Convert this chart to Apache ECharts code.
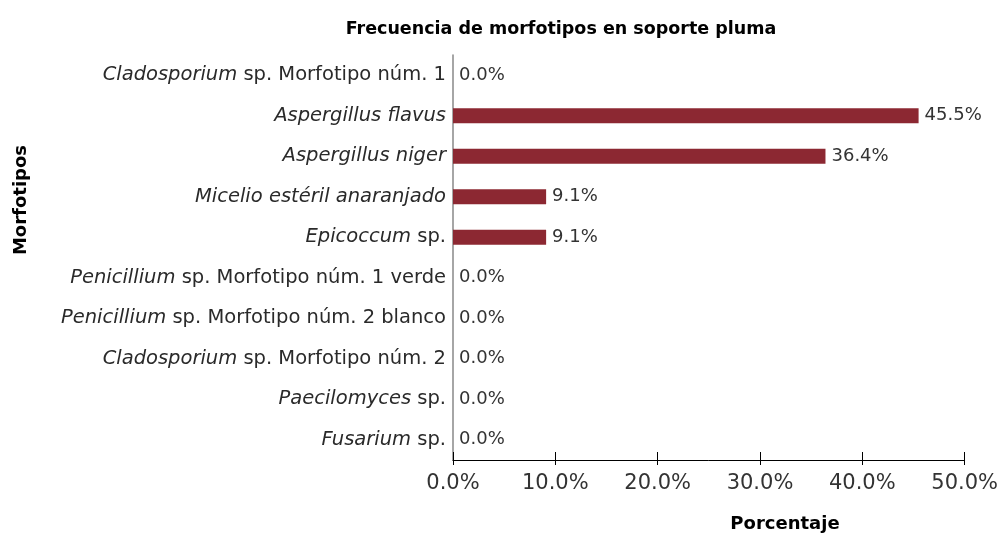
<!DOCTYPE html>
<html>
<head>
<meta charset="utf-8">
<script src="https://cdn.jsdelivr.net/npm/echarts@6/dist/echarts.min.js"></script>
<style>
  html, body { margin: 0; padding: 0; background: #fff; }
  #chart { width: 1001px; height: 533px; }
</style>
</head>
<body>
<div id="chart"></div>
<script>
// genus part (italic) and rest (upright) of each category label
const genus = [
  "Cladosporium", "Aspergillus flavus", "Aspergillus niger", "Micelio estéril anaranjado",
  "Epicoccum", "Penicillium", "Penicillium", "Cladosporium", "Paecilomyces", "Fusarium"
];
const rest = [
  " sp. Morfotipo núm. 1", "", "", "", " sp.", " sp. Morfotipo núm. 1 verde",
  " sp. Morfotipo núm. 2 blanco", " sp. Morfotipo núm. 2", " sp.", " sp."
];
const percent = [0.0, 45.5, 36.4, 9.1, 9.1, 0.0, 0.0, 0.0, 0.0, 0.0];
const xTicks = [0, 10, 20, 30, 40, 50];

const categories = genus.map((g, i) => g + rest[i]);
const FONT = "'DejaVu Sans', 'Liberation Sans', sans-serif";

const chart = echarts.init(document.getElementById("chart"));

const option = {
  animation: false,
  textStyle: { fontFamily: FONT },
  title: [
    {
      text: "Frecuencia de morfotipos en soporte pluma",
      left: 556, top: 15, textAlign: "center",
      textStyle: { fontSize: 17.5, fontWeight: "bold", color: "#000", fontFamily: FONT },
    },
    {
      text: "Porcentaje",
      left: 780, top: 510, textAlign: "center",
      textStyle: { fontSize: 18, fontWeight: "bold", color: "#000", fontFamily: FONT },
    },
  ],
  graphic: [
    {
      type: "text",
      x: 21, y: 200, rotation: Math.PI / 2,
      style: {
        text: "Morfotipos", fontSize: 18, fontWeight: "bold", fill: "#000",
        fontFamily: FONT, align: "center", verticalAlign: "middle",
      },
    },
  ],
  grid: { left: 453, right: 36, top: 55, bottom: 73, containLabel: false },
  xAxis: [
    {
      type: "value", min: 0, max: 50, interval: 10,
      axisLine: { show: true, lineStyle: { color: "#000", width: 1 } },
      axisTick: { show: true, inside: true, length: 8, lineStyle: { color: "#000" } },
      splitLine: { show: false },
      axisLabel: {
        margin: 13, fontSize: 21, color: "#333", fontFamily: FONT,
        formatter: (v) => v.toFixed(1) + "%",
        customValues: xTicks,
      },
    },
    {
      type: "value", min: 0, max: 50, interval: 10, position: "bottom",
      axisLine: { show: false },
      axisTick: { show: true, length: 5, lineStyle: { color: "#000" } },
      splitLine: { show: false },
      axisLabel: { show: false },
    },
  ],
  yAxis: {
    type: "category", data: categories, inverse: true,
    axisLine: { show: true, lineStyle: { color: "#888", width: 1.5 } },
    axisTick: { show: false },
    axisLabel: {
      margin: 7, fontSize: 19.5, color: "#2a2a2a", fontFamily: FONT,
      formatter: (v, i) => "{i|" + genus[i] + "}" + (rest[i] ? "{n|" + rest[i] + "}" : ""),
      rich: {
        i: { fontStyle: "italic", fontSize: 19.5, color: "#2a2a2a", fontFamily: FONT },
        n: { fontSize: 19.5, color: "#2a2a2a", fontFamily: FONT },
      },
    },
  },
  series: [
    {
      type: "bar", data: percent, barWidth: 15, xAxisIndex: 0,
      itemStyle: { color: "#8c2832" },
      label: {
        show: true, position: "right", distance: 6,
        fontSize: 18, color: "#333", fontFamily: FONT,
        formatter: (p) => p.value.toFixed(1) + "%",
      },
    },
  ],
};

chart.setOption(option);
</script>
</body>
</html>
